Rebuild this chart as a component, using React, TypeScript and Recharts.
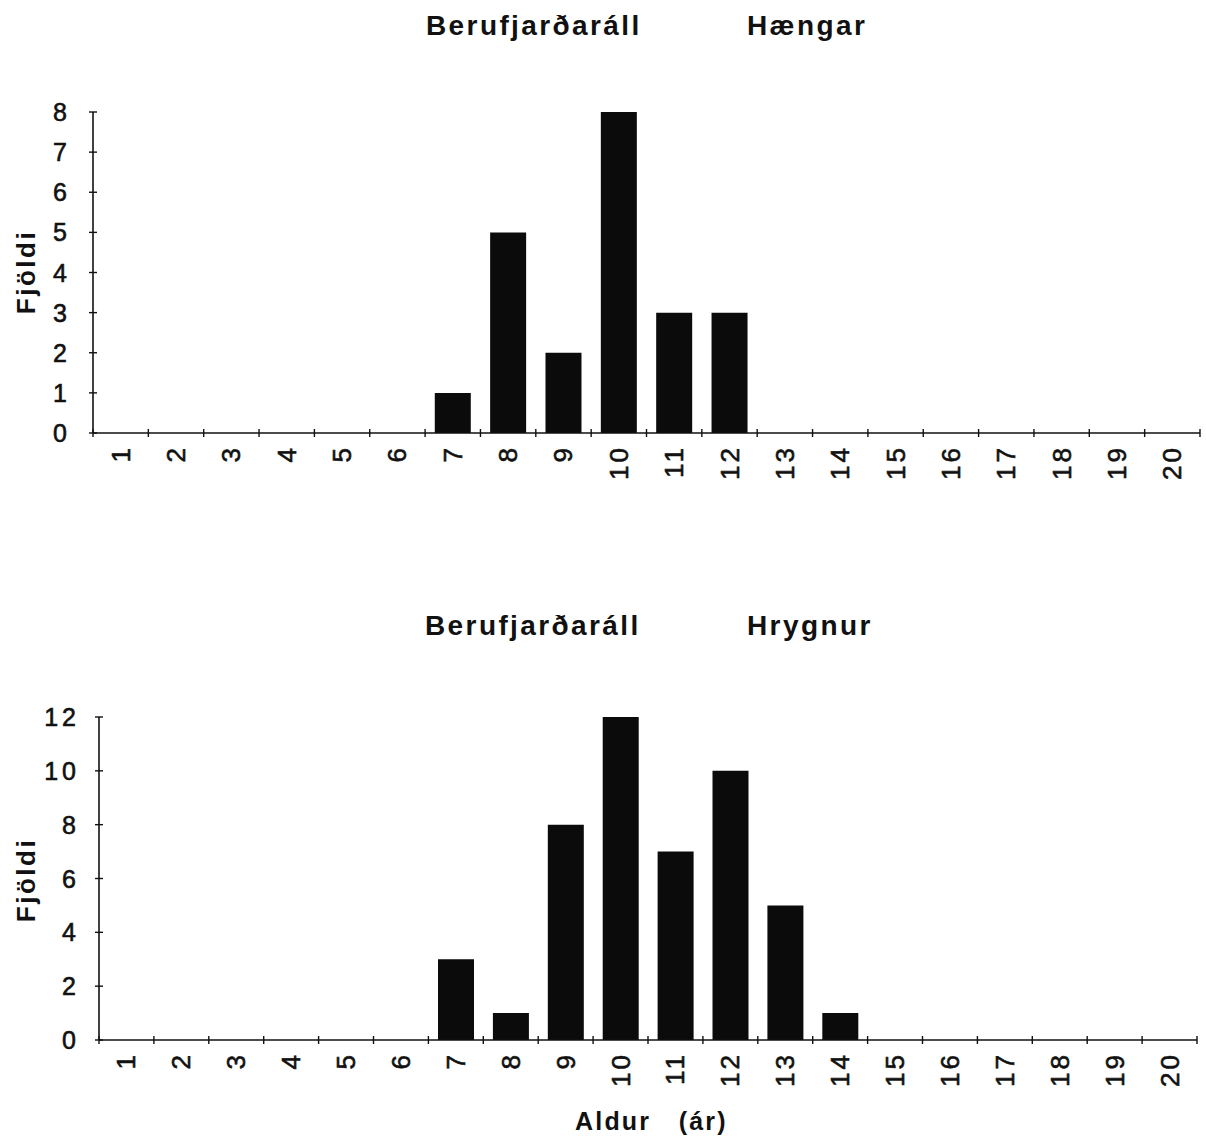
import React from 'react';
import { BarChart, Bar, XAxis, YAxis } from 'recharts';

// age classes (years) and number of fish in each class
const ages = ['1', '2', '3', '4', '5', '6', '7', '8', '9', '10', '11', '12', '13', '14', '15', '16', '17', '18', '19', '20'];
const maleCounts = [0, 0, 0, 0, 0, 0, 1, 5, 2, 8, 3, 3, 0, 0, 0, 0, 0, 0, 0, 0];
const femaleCounts = [0, 0, 0, 0, 0, 0, 3, 1, 8, 12, 7, 10, 5, 1, 0, 0, 0, 0, 0, 0];
const maleTicks = [0, 1, 2, 3, 4, 5, 6, 7, 8];
const femaleTicks = [0, 2, 4, 6, 8, 10, 12];

const FONT = '"Liberation Sans", Arial, Helvetica, sans-serif';
const INK = '#111';
const WIDTH = 1206;

type PanelProps = {
  counts: number[];
  yTicks: number[];
  height: number;
  plotTop: number;
  axisWidth: number;
  right: number;
  xAxisHeight: number;
  yMargin: number;
  xMargin: number;
};

function Panel({ counts, yTicks, height, plotTop, axisWidth, right, xAxisHeight, yMargin, xMargin }: PanelProps) {
  const data = ages.map((age, i) => ({ age, count: counts[i] }));
  const band = (WIDTH - axisWidth - right) / ages.length;

  const yTick = (props: any) => {
    const { x, y, payload } = props;
    const ax = x + yMargin;
    return (
      <g>
        <line x1={ax - 4} x2={ax + 4} y1={y} y2={y} stroke={INK} strokeWidth={1.4} />
        <text
          x={x}
          y={y}
          dy="0.36em"
          textAnchor="end"
          fontSize={25}
          letterSpacing={4}
          fill={INK}
          stroke={INK}
          strokeWidth={0.6}
          fontFamily={FONT}
        >
          {payload.value}
        </text>
      </g>
    );
  };

  const xTick = (props: any) => {
    const { x, y, payload, index } = props;
    const ay = y - xMargin;
    const left = x - band / 2;
    return (
      <g>
        <line x1={left} x2={left} y1={ay - 4} y2={ay + 4} stroke={INK} strokeWidth={1.4} />
        {index === ages.length - 1 && (
          <line x1={x + band / 2} x2={x + band / 2} y1={ay - 4} y2={ay + 4} stroke={INK} strokeWidth={1.4} />
        )}
        <text
          transform={`translate(${x + 9},${ay + 12}) rotate(-90)`}
          textAnchor="end"
          fontSize={26}
          letterSpacing={3}
          fill={INK}
          stroke={INK}
          strokeWidth={0.6}
          fontFamily={FONT}
        >
          {payload.value}
        </text>
      </g>
    );
  };

  return (
    <BarChart
      width={WIDTH}
      height={height}
      data={data}
      margin={{ top: plotTop, right, bottom: 0, left: 0 }}
      barCategoryGap="17.5%"
    >
      <XAxis
        dataKey="age"
        height={xAxisHeight}
        interval={0}
        tickSize={0}
        tickMargin={xMargin}
        tick={xTick}
        axisLine={{ stroke: INK, strokeWidth: 1.6 }}
      />
      <YAxis
        type="number"
        domain={[0, yTicks[yTicks.length - 1]]}
        ticks={yTicks}
        interval={0}
        width={axisWidth}
        tickSize={0}
        tickMargin={yMargin}
        tick={yTick}
        axisLine={{ stroke: INK, strokeWidth: 1.6 }}
      />
      <Bar dataKey="count" fill="#0b0b0b" isAnimationActive={false} />
    </BarChart>
  );
}

const titleStyle: React.CSSProperties = {
  position: 'absolute',
  fontFamily: FONT,
  fontWeight: 'bold',
  fontSize: 28,
  letterSpacing: 2.4,
  color: INK,
  whiteSpace: 'nowrap',
  lineHeight: 1,
};

const yLabelStyle: React.CSSProperties = {
  ...titleStyle,
  fontSize: 26,
  letterSpacing: 2.5,
  transform: 'translate(-50%, -50%) rotate(-90deg)',
};

export default function App() {
  return (
    <div style={{ position: 'absolute', left: 0, top: 0, width: WIDTH, height: 1143, background: '#fff' }}>
      <div style={{ position: 'absolute', left: 0, top: 0 }}>
        <Panel
          counts={maleCounts}
          yTicks={maleTicks}
          height={560}
          plotTop={112}
          axisWidth={93}
          right={6}
          xAxisHeight={127}
          yMargin={22}
          xMargin={10}
        />
      </div>
      <div style={{ position: 'absolute', left: 0, top: 560 }}>
        <Panel
          counts={femaleCounts}
          yTicks={femaleTicks}
          height={583}
          plotTop={157}
          axisWidth={99}
          right={9}
          xAxisHeight={103}
          yMargin={19}
          xMargin={10}
        />
      </div>

      <div style={{ ...titleStyle, left: 426, top: 12 }}>Berufjarðaráll</div>
      <div style={{ ...titleStyle, left: 747, top: 12 }}>Hængar</div>
      <div style={{ ...titleStyle, left: 425, top: 612 }}>Berufjarðaráll</div>
      <div style={{ ...titleStyle, left: 747, top: 612 }}>Hrygnur</div>

      <div style={{ ...yLabelStyle, left: 26, top: 272 }}>Fjöldi</div>
      <div style={{ ...yLabelStyle, left: 26, top: 880 }}>Fjöldi</div>

      <div style={{ ...titleStyle, fontSize: 25, letterSpacing: 2.2, left: 575, top: 1109 }}>
        Aldur&nbsp;&nbsp;&nbsp;(ár)
      </div>
    </div>
  );
}
